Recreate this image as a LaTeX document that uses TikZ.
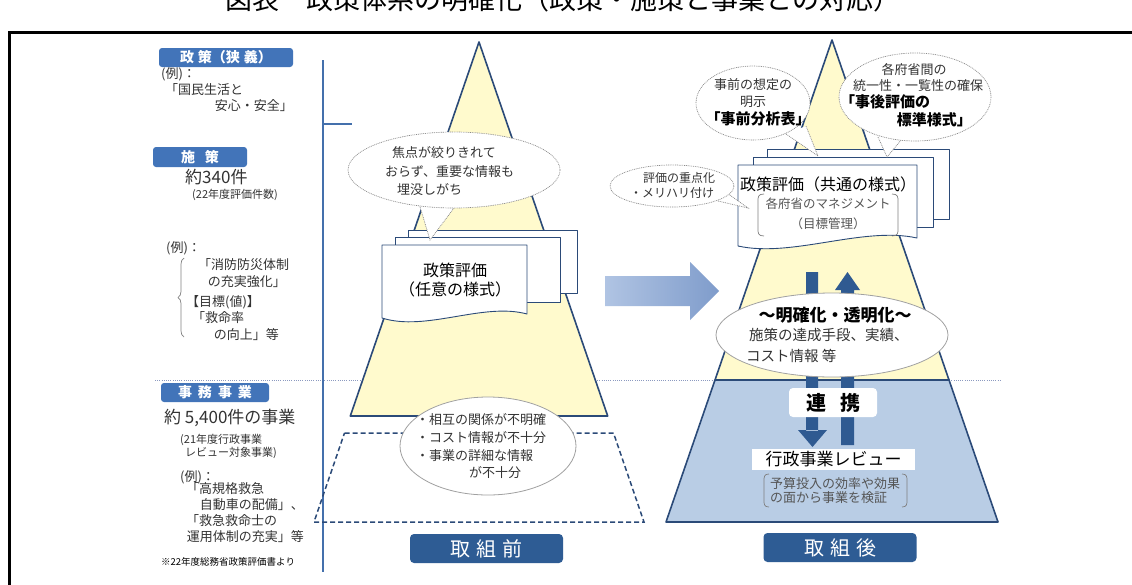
\documentclass[tikz,border=0pt]{standalone}
\usepackage{fontspec}
\setmainfont{Noto Sans CJK JP}
\usetikzlibrary{calc,decorations.pathreplacing}
\definecolor{pyrline}{HTML}{2B4A78}
\definecolor{pyryellow}{HTML}{FFFACD}
\definecolor{pyrblue}{HTML}{B9CDE5}
\definecolor{navy}{HTML}{2E5C94}
\definecolor{labelblue}{HTML}{4274B9}
\definecolor{axisblue}{HTML}{4470AC}
\definecolor{arrowdark}{HTML}{2F5A91}
\definecolor{arrowlightA}{HTML}{B0C4E3}
\definecolor{arrowlightB}{HTML}{7F9CCB}
\definecolor{txt}{HTML}{333333}
\definecolor{graytxt}{HTML}{555555}
\definecolor{bubbleline}{HTML}{8A8A8A}
\definecolor{dotline}{HTML}{8C9AC0}
\newcommand{\fs}[1]{\fontsize{#1}{#1}\selectfont}
\tikzset{
  t/.style={inner sep=0pt, text=txt, anchor=west},
  tc/.style={inner sep=0pt, text=txt},
  te/.style={inner sep=0pt, text=txt, anchor=east},
  lbl/.style={fill=labelblue, rounded corners=3pt, text=white, font=\bfseries\fs{14}, inner sep=0pt},
  bigbox/.style={fill=navy, rounded corners=4pt, text=white, font=\fs{20}, inner sep=0pt, minimum width=153pt, minimum height=29pt},
  pyr/.style={draw=pyrline, line width=1.6pt, line join=round},
  card/.style={draw=pyrline, line width=0.9pt, fill=white, line join=round},
  bubble/.style={draw=bubbleline, fill=white, line width=0.7pt, dash pattern=on 0.9pt off 0.9pt},
  oval/.style={draw=bubbleline!80, fill=white, line width=0.8pt},
  bracket/.style={draw=gray, line width=0.7pt},
}
\begin{document}
\begin{tikzpicture}[x=1pt,y=-1pt]
\useasboundingbox (0,0) rectangle (1132,584);
\clip (0,0) rectangle (1132,584);
\fill[white] (0,0) rectangle (1132,584);

% title (cut off at top)
\node[tc, text=black, font=\fs{27}] (title) at (563,-1) {図表　政策体系の明確化（政策・施策と事業との対応）};

% frame
\draw[line width=3pt] (9,590) -- (9,32) -- (1140,32);

% separators
\draw[dotline, line width=0.8pt, dash pattern=on 1pt off 1.2pt] (155,380) -- (1000,380);
\draw[axisblue, line width=2pt] (323,60) -- (323,572);
\draw[axisblue, line width=2pt] (323,124) -- (352,124);

% ---------- left column ----------
\node[lbl, minimum width=134pt, minimum height=19pt] (l1) at (226,57.5) {政\hspace{4pt}策（狭\hspace{4pt}義）};
\node[t, font=\fs{13}] (l1a) at (161,74) {(例)：};
\node[t, font=\fs{13}] (l1b) at (165,90) {「国民生活と};
\node[te, font=\fs{13}] (l1c) at (293,106) {安心・安全」};

\node[lbl, minimum width=94pt, minimum height=20pt] (l2) at (200,157) {施\hspace{10pt}策};
\node[t, font=\fs{17}] (l2a) at (185,177) {約340件};
\node[t, font=\fs{11}] (l2b) at (192,195) {(22年度評価件数)};
\node[t, font=\fs{13}] (l2c) at (166,248) {(例)：};
\draw[gray, line width=0.7pt, decorate, decoration={brace, amplitude=6pt}] (184,337) -- (184,258);
\node[t, font=\fs{13}] (l2d) at (198,265) {「消防防災体制};
\node[te, font=\fs{13}] (l2e) at (286,282) {の充実強化」};
\node[t, font=\fs{13}] (l2f) at (186,302) {【目標(値)】};
\node[t, font=\fs{13}] (l2g) at (192,318) {「救命率};
\node[te, font=\fs{13}] (l2h) at (279,335) {の向上」等};

\node[lbl, minimum width=108pt, minimum height=19pt] (l3) at (215,392.5) {事\hspace{6pt}務\hspace{6pt}事\hspace{6pt}業};
\node[t, font=\fs{17}] (l3a) at (164,418) {約 5,400件の事業};
\node[t, font=\fs{11}] (l3b) at (180,440) {(21年度行政事業};
\node[t, font=\fs{11}] (l3c) at (185,453) {レビュー対象事業)};
\node[t, font=\fs{13}] (l3d) at (180,477) {(例)：};
\node[t, font=\fs{13}] (l3e) at (186,489) {「高規格救急};
\node[te, font=\fs{13}] (l3f) at (304,505) {自動車の配備」、};
\node[t, font=\fs{13}] (l3g) at (186,521) {「救急救命士の};
\node[te, font=\fs{13}] (l3h) at (304,537) {運用体制の充実」等};
\node[t, font=\fs{9.5}, text=black] (l3i) at (161,562) {※22年度総務省政策評価書より};

% ---------- left pyramid (before) ----------
\draw[pyr, fill=pyryellow] (479,42) -- (607.7,416) -- (350.3,416) -- cycle;
\draw[pyrline, line width=1.5pt, dash pattern=on 5pt off 3pt] (344.5,433) -- (613.5,433) -- (644,522) -- (314,522) -- cycle;

% cards
\draw[card] (408,230) rectangle (577,293);
\draw[card] (395,237) rectangle (560,302);
\draw[card] (382,245) -- (527,245) -- (527,314) .. controls (483,302) and (426,332) .. (382,318) -- cycle;
\node[tc, font=\fs{16}, align=center, text=black] (c1) at (455,280) {政策評価\\[3pt]（任意の様式）};

% bubble 1
\draw[bubble] (418,200) -- (430,240) -- (460,200);
\draw[bubble] (454,170) ellipse [x radius=106, y radius=38];
\node[t, font=\fs{13}] (b1a) at (392,153) {焦点が絞りきれて};
\node[t, font=\fs{13}] (b1b) at (385,172) {おらず、重要な情報も};
\node[t, font=\fs{13}] (b1c) at (397,190) {埋没しがち};

% ellipse left
\draw[oval] (488,446) ellipse [x radius=88, y radius=49];
\node[t, font=\fs{13}] (e1a) at (416,420) {・相互の関係が不明確};
\node[t, font=\fs{13}] (e1b) at (416,438) {・コスト情報が不十分};
\node[t, font=\fs{13}] (e1c) at (416,456) {・事業の詳細な情報};
\node[t, font=\fs{13}] (e1d) at (469,473) {が不十分};

\node[bigbox] (before) at (486.5,548.5) {取\hspace{6pt}組\hspace{6pt}前};

% big arrow
\shade[left color=arrowlightA, right color=arrowlightB] (605,276) -- (690,276) -- (690,262) -- (719,291) -- (690,320) -- (690,306) -- (605,306) -- cycle;

% ---------- right pyramid (after) ----------
\draw[pyr, fill=pyryellow] (832,40) -- (949,380) -- (715,380) -- cycle;
\draw[pyr, fill=pyrblue] (715,380) -- (949,380) -- (998,522) -- (666,522) -- cycle;

% dark arrows
\fill[arrowdark] (806,272) rectangle (818,431) (798,430) -- (827,430) -- (812.5,447) -- cycle;
\fill[arrowdark] (841,289) rectangle (854,445) (835,290) -- (860,290) -- (847.5,272) -- cycle;

% cards
\draw[card] (767,149) rectangle (949,219);
\draw[card] (753,157) rectangle (933,227);
\draw[card] (738,165) -- (917,165) -- (917,238) .. controls (863,226) and (792,258) .. (738,246) -- cycle;
\node[tc, font=\fs{16}, text=black] (c2) at (828,184) {政策評価（共通の様式）};
\node[tc, font=\fs{12.5}, text=graytxt] (c2a) at (828,204) {各府省のマネジメント};
\node[tc, font=\fs{12.5}, text=graytxt] (c2b) at (828,224) {（目標管理）};
\draw[bracket] (764,194) .. controls (758,194) and (758,197) .. (758,201) -- (758,229) .. controls (758,233) and (758,236) .. (764,236);
\draw[bracket] (892,194) .. controls (898,194) and (898,197) .. (898,201) -- (898,229) .. controls (898,233) and (898,236) .. (892,236);

% bubble A
\draw[bubble] (786,134) -- (818,156) -- (806,126);
\draw[bubble] (753,103) ellipse [x radius=57, y radius=37];
\node[tc, font=\fs{13}] (ba1) at (753,85) {事前の想定の};
\node[tc, font=\fs{13}] (ba2) at (753,102) {明示};
\node[tc, font=\bfseries\fs{15}, text=black] (ba3) at (758,119) {「事前分析表」};

% bubble B
\draw[bubble] (878,137) -- (887,157) -- (902,139);
\draw[bubble] (915,97) ellipse [x radius=76, y radius=44];
\node[tc, font=\fs{13}] (bb1) at (914,70) {各府省間の};
\node[tc, font=\fs{13}] (bb2) at (918,86) {統一性・一覧性の確保};
\node[t, font=\bfseries\fs{15}, text=black] (bb3) at (840,102) {「事後評価の};
\node[te, font=\bfseries\fs{15}, text=black] (bb4) at (972,120) {標準様式」};

% bubble C
\draw[bubble] (718,201) -- (748,208) -- (727,193);
\draw[bubble] (672,186) ellipse [x radius=62, y radius=21];
\node[t, font=\fs{12}] (bc1) at (643,178) {評価の重点化};
\node[t, font=\fs{12}] (bc2) at (630,193) {・メリハリ付け};

% ellipse right
\draw[oval] (832,335) ellipse [x radius=116, y radius=42];
\node[tc, font=\bfseries\fs{17}, text=black] (e2a) at (835,315) {〜明確化・透明化〜};
\node[t, font=\fs{14.5}] (e2b) at (749,335) {施策の達成手段、実績、};
\node[t, font=\fs{14.5}] (e2c) at (746,356) {コスト情報 等};

% renkei
\node[fill=white, rounded corners=4pt, minimum width=88pt, minimum height=29pt, inner sep=0pt, font=\bfseries\fs{20}, text=black] (renkei) at (833,402.5) {連\hspace{14pt}携};
\node[fill=white, minimum width=163pt, minimum height=21pt, inner sep=0pt, font=\fs{17}, text=black] (review) at (833.5,459.5) {行政事業レビュー};
\node[tc, font=\fs{13}, text=graytxt, align=left] (rv) at (835,491) {予算投入の効率や効果\\[1pt]の面から事業を検証};
\draw[bracket] (769,474) .. controls (764,474) and (764,477) .. (764,481) -- (764,500) .. controls (764,504) and (764,507) .. (769,507);
\draw[bracket] (902,474) .. controls (907,474) and (907,477) .. (907,481) -- (907,500) .. controls (907,504) and (907,507) .. (902,507);

\node[bigbox] (after) at (840,547.5) {取\hspace{6pt}組\hspace{6pt}後};
\end{tikzpicture}
\end{document}
